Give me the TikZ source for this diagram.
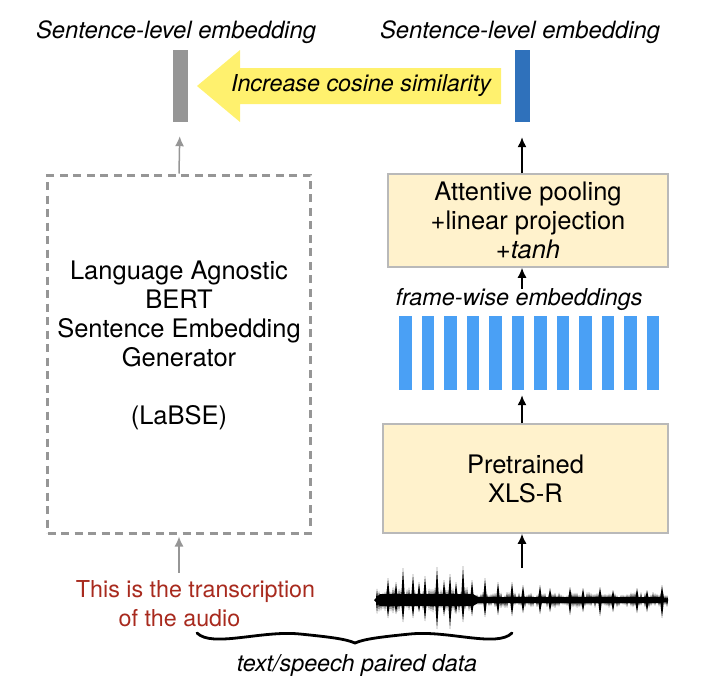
\documentclass[tikz,border=0pt]{standalone}
\usepackage{fontspec}
\setmainfont{TeX Gyre Heros}
\usetikzlibrary{arrows.meta}

\definecolor{embgray}{RGB}{150,150,150}
\definecolor{embblue}{RGB}{47,113,187}
\definecolor{frameblue}{RGB}{74,160,245}
\definecolor{simyellow}{RGB}{255,241,110}
\definecolor{boxfill}{RGB}{255,242,204}
\definecolor{boxline}{RGB}{185,185,185}
\definecolor{transred}{RGB}{168,42,30}

\tikzset{
  txt/.style={font=\fontsize{23.3}{29}\selectfont, align=center, inner sep=0pt},
  itxt/.style={txt, font=\fontsize{23.3}{29}\selectfont\itshape},
  boxtxt/.style={txt, font=\fontsize{25.5}{29}\selectfont},
  embbar/.style={minimum width=15pt, minimum height=72pt, inner sep=0pt},
  framebar/.style={fill=frameblue, minimum width=12.5pt, minimum height=74pt, inner sep=0pt},
  modelbox/.style={boxtxt, draw=boxline, line width=1.5pt, fill=boxfill},
  dashbox/.style={draw=embgray, line width=3pt, dash pattern=on 8pt off 5.5pt},
  blackarrow/.style={-{Latex[length=10pt,width=9pt]}, line width=1.5pt},
  grayarrow/.style={-{Latex[length=10pt,width=9pt]}, line width=1.5pt, embgray}
}

\begin{document}
\begin{tikzpicture}[x=1pt,y=-1pt]
    \useasboundingbox (0,0) rectangle (711,686);
    % titles and sentence embeddings
    \node[itxt, font=\fontsize{23.8}{29}\selectfont\itshape] (ltitle) at (176,32) {Sentence-level embedding};
    \node[itxt, font=\fontsize{23.8}{29}\selectfont\itshape] (rtitle) at (520,32) {Sentence-level embedding};
    \node[embbar, fill=embgray] (lemb) at (180,86) {};
    \node[embbar, fill=embblue] (remb) at (522,86) {};
    \fill[simyellow] (197,86) -- (240,50) -- (240,68) -- (501,68) -- (501,104)
        -- (240,104) -- (240,122) -- cycle; % big yellow arrow
    \node[itxt] (cosine) at (361,86) {Increase cosine similarity};
    % left branch
    \node[dashbox, minimum width=263pt, minimum height=358pt] (labse) at (179,354) {};
    \node[boxtxt] (labsetxt) at (179,345) {Language Agnostic\\BERT\\Sentence Embedding\\Generator\\[29pt](LaBSE)};
    \node[txt, text=transred] (trans) at (195.5,604) {This is the transcription\\of the audio\hspace*{32pt}};
    \draw[grayarrow, shorten >=14pt] (labse.north) -- (lemb.south);
    \draw[grayarrow, shorten <=8pt, shorten >=2pt] (trans.north -| labse.south) -- (labse.south);
    % right branch
    \node[modelbox, minimum width=280pt, minimum height=93pt] (att) at (528,220.5)
        {Attentive pooling\\+linear projection\\+\textit{tanh}};
    \node[itxt] (fwtext) at (519,300) {frame-wise embeddings};
    \foreach \i in {0,...,11} % frame-wise bars
        \node[framebar] (fr\i) at ({405.25+22.5*\i},353) {};
    \node[modelbox, minimum width=285pt, minimum height=109pt] (pre) at (525.5,478.5)
        {Pretrained\\XLS-R};
    \coordinate (wavetop) at (522,568);
    \draw[blackarrow, shorten >=15pt] (att.north -| remb.south) -- (remb.south);
    \draw[blackarrow] (fwtext.north -| remb.south) -- (att.south -| remb.south);
    \draw[blackarrow, shorten >=5pt] (pre.north -| remb.south) -- (fr5.south -| remb.south);
    \draw[blackarrow] (wavetop) -- (pre.south -| wavetop);
    % waveform: band, noise, then the big peaks
    \pgfmathsetseed{11}
    \fill (374,600) -- (380,594) -- (473,594) -- (478,597) -- (660,597) -- (668,600)
        -- (660,603) -- (478,603) -- (473,606) -- (380,606) -- cycle;
    \foreach \i in {0,...,145}{
        \pgfmathsetmacro{\wx}{377+2*\i}
        \pgfmathsetmacro{\env}{\wx<473 ? 14 : 8}
        \pgfmathsetmacro{\up}{\env*(0.4+0.6*rnd)}
        \pgfmathsetmacro{\dn}{\env*(0.4+0.6*rnd)}
        \fill (\wx-1.2,600) -- (\wx,600-\up) -- (\wx+1.2,600) -- (\wx,600+\dn) -- cycle;
    }
    \foreach \px/\pu/\pd in {388/22/18, 396/18/14, 403/32/22, 413/26/18, 419/18/12, 425/24/21,
        437/33/29, 444/20/16, 450/26/29, 456/18/14, 463/34/22, 472/20/16, 485/22/17, 498/18/15,
        512/18/16, 523/15/13, 540/15/14, 550/12/12, 570/13/15, 583/12/12, 600/13/16, 613/10/12,
        637/12/13, 647/10/12, 662/15/18} % peaks
        \fill (\px-2,600) -- (\px,600-\pu) -- (\px+2,600) -- (\px,600+\pd) -- cycle;
    % paired data brace
    \coordinate (braceL) at (197,633);
    \coordinate (braceT) at (355,643);
    \coordinate (braceR) at (512,633);
    \draw[line width=2.8pt, line cap=round] (braceL) .. controls (212,648) and (262,630) .. (300,634)
        .. controls (330,637) and (346,639) .. (braceT)
        .. controls (364,639) and (380,637) .. (410,634)
        .. controls (448,630) and (497,648) .. (braceR);
    \node[itxt] (paired) at (357,665) {text/speech paired data};
\end{tikzpicture}
\end{document}
